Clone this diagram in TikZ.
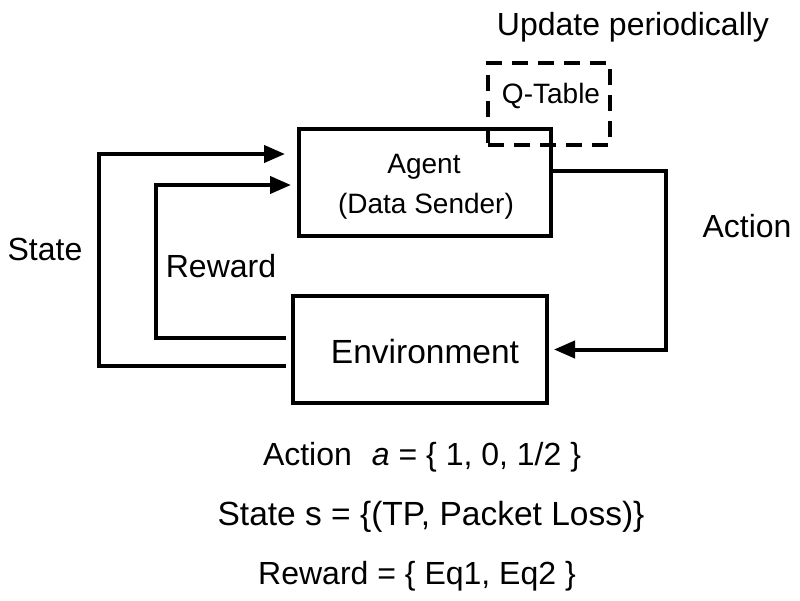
\documentclass[tikz,border=0pt]{standalone}
\usepackage{fontspec}
\setmainfont{Liberation Sans}
\usetikzlibrary{arrows.meta}
\tikzset{
  box/.style={draw, line width=4pt, minimum width=252pt, minimum height=107pt, inner sep=0pt},
  qbox/.style={draw, line width=4pt, dash pattern=on 16pt off 10pt, minimum width=122pt, minimum height=82pt, inner sep=0pt},
  conn/.style={line width=4pt},
  arr/.style={line width=4pt, -{Triangle[length=21pt,width=17pt]}},
  big/.style={font=\fontsize{32}{38}\selectfont, inner sep=0pt, anchor=base},
  bigger/.style={font=\fontsize{33.5}{40}\selectfont, inner sep=0pt, anchor=base},
  mid/.style={font=\fontsize{28}{34}\selectfont, inner sep=0pt, anchor=base},
}
\begin{document}
\begin{tikzpicture}[x=1pt,y=-1pt]
\useasboundingbox (0,0) rectangle (800,600);
% boxes
\node[box] (agent) at (425,182.5) {};
\node[box, minimum width=254pt] (env) at (420,349.5) {};
\node[qbox] (qt) at (549,104) {};
% labels
\node[big] (upd) at (633,35) {Update periodically};
\node[mid] (qlab) at (551,103) {Q-Table};
\node[mid] (ag1) at (424,173) {Agent};
\node[mid] (ag2) at (426,213) {(Data Sender)};
\node[bigger] (envlab) at (425,363) {Environment};
\node[big] (stlab) at (45,260) {State};
\node[big] (rwlab) at (221,277) {Reward};
\node[big] (aclab) at (747,237) {Action};
\node[big] (b1) at (422,465) {Action\hspace{20pt}\textit{a} = \{ 1, 0, 1/2 \}};
\node[bigger] (b2) at (431,525) {State s = \{(TP, Packet Loss)\}};
\node[big] (b3) at (417,584) {Reward = \{ Eq1, Eq2 \}};
% bend coordinates
\coordinate (stateX) at (99,260);
\coordinate (rewX) at (156,260);
\coordinate (actX) at (666,260);
% connectors
\draw[arr] ([xshift=-5pt,yshift=-16.5pt]env.west) -| (stateX) |- ([xshift=-12pt,yshift=28.5pt]agent.west);
\draw[arr] ([xshift=-5pt,yshift=11.5pt]env.west) -| (rewX) |- ([xshift=-6pt,yshift=-2.5pt]agent.west);
\draw[arr] ([yshift=11.5pt]agent.east) -| (actX) |- ([xshift=5pt]env.east);
\end{tikzpicture}
\end{document}
